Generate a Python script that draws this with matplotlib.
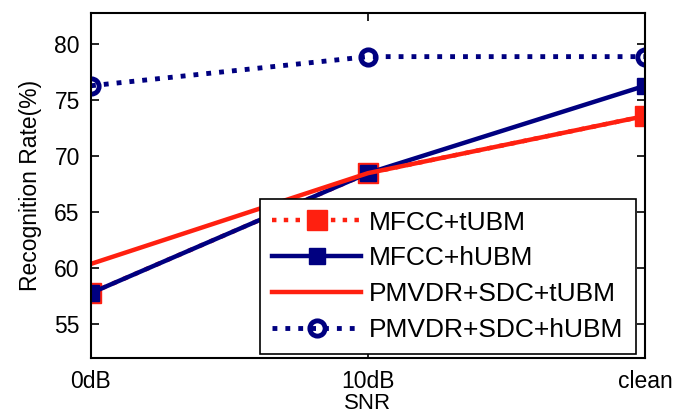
import matplotlib
matplotlib.use("Agg")
import matplotlib.pyplot as plt

plt.rcParams['font.family'] = ['Liberation Sans', 'DejaVu Sans']

snr_labels = ["0dB", "10dB", "clean"]
mfcc_tubm = [57.8, 68.5, 73.6]
mfcc_hubm = [57.8, 68.5, 76.3]
pmvdr_tubm = [60.4, 68.5, 73.6]
pmvdr_hubm = [76.3, 78.9, 78.9]

red = "#ff2010"
navy = "#000080"

fig = plt.figure(figsize=(6.79, 4.17), dpi=100)
ax = fig.add_axes([0.134, 0.1415, 0.816, 0.8275])
x = list(range(len(snr_labels)))

ax.plot(x, mfcc_tubm, linestyle=':', color=red, linewidth=3.2, marker='s',
        markersize=15, markerfacecolor=red, markeredgecolor=red, label="MFCC+tUBM")
ax.plot(x, mfcc_hubm, linestyle='-', color=navy, linewidth=3.2, marker='s',
        markersize=11, markerfacecolor=navy, markeredgecolor=navy, label="MFCC+hUBM")
ax.plot(x, pmvdr_tubm, linestyle='-', color=red, linewidth=3.2, label="PMVDR+SDC+tUBM")
ax.plot(x, pmvdr_hubm, linestyle=':', color=navy, linewidth=3.5, marker='o',
        markersize=11, markerfacecolor='none', markeredgecolor=navy, markeredgewidth=3.5,
        label="PMVDR+SDC+hUBM")

ax.set_xlim(0, 2)
ax.set_ylim(52, 82.8)
ax.set_xticks(x)
ax.set_xticklabels(snr_labels)
ax.set_yticks([55, 60, 65, 70, 75, 80])
ax.tick_params(direction='in', top=True, right=True, labelsize=16.5, length=6, width=1.2)
ax.tick_params(axis='x', pad=9)
ax.tick_params(axis='y', pad=8)
for s in ax.spines.values():
    s.set_linewidth(1.5)
ax.set_xlabel("SNR", fontsize=16, labelpad=0)
ax.set_ylabel("Recognition Rate(%)", fontsize=16.5, labelpad=9)

leg = ax.legend(loc='lower right', bbox_to_anchor=(0.99, 0.0), fontsize=19,
                handlelength=3.4, labelspacing=0.45, borderaxespad=0.15,
                fancybox=False, edgecolor='black', framealpha=1,
                handletextpad=0.3, borderpad=0.45)
leg.get_frame().set_linewidth(1.2)

fig.savefig("out.png", dpi=100)
